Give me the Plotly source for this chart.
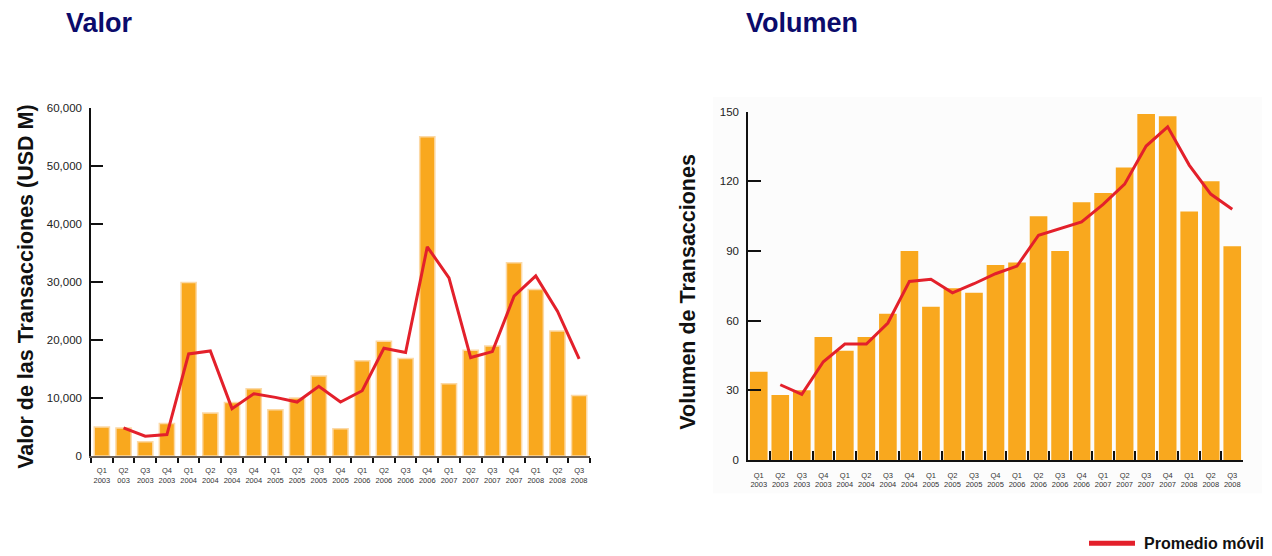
import plotly.graph_objects as go

W, H = 1272, 556

quarters = ["Q1<br>2003", "Q2<br>003", "Q3<br>2003", "Q4<br>2003",
            "Q1<br>2004", "Q2<br>2004", "Q3<br>2004", "Q4<br>2004",
            "Q1<br>2005", "Q2<br>2005", "Q3<br>2005", "Q4<br>2005",
            "Q1<br>2006", "Q2<br>2006", "Q3<br>2006", "Q4<br>2006",
            "Q1<br>2007", "Q2<br>2007", "Q3<br>2007", "Q4<br>2007",
            "Q1<br>2008", "Q2<br>2008", "Q3<br>2008"]
quarters_vol = ["Q1<br>2003", "Q2<br>2003", "Q3<br>2003", "Q4<br>2003",
                "Q1<br>2004", "Q2<br>2004", "Q3<br>2004", "Q4<br>2004",
                "Q1<br>2005", "Q2<br>2005", "Q3<br>2005", "Q4<br>2005",
                "Q1<br>2006", "Q2<br>2006", "Q3<br>2006", "Q4<br>2006",
                "Q1<br>2007", "Q2<br>2007", "Q3<br>2007", "Q4<br>2007",
                "Q1<br>2008", "Q2<br>2008", "Q3<br>2008"]

# Transaction value (USD M) per quarter and its moving average
valor = [5000, 4850, 2450, 5600, 29900, 7400, 9250, 11600, 8000, 10000,
         13800, 4700, 16400, 19800, 16800, 55000, 12450, 18250, 18950,
         33300, 28700, 21550, 10450]
valor_prom = [None, 4850, 3430, 3710, 17600, 18100, 8170, 10740, 10110,
              9310, 12000, 9310, 11260, 18570, 17830, 36050, 30690, 16970,
              18000, 27550, 31030, 24970, 16740]

# Number of transactions per quarter and its moving average
volumen = [38, 28, 30, 53, 47, 53, 63, 90, 66, 74, 72, 84, 85, 105, 90,
           111, 115, 126, 149, 148, 107, 120, 92]
volumen_prom = [None, 32.4, 28.3, 42.3, 49.9, 49.9, 59.0, 76.9, 77.8, 72.0,
                75.9, 80.2, 83.5, 96.8, 99.6, 102.5, 110.1, 118.8, 135.2,
                143.5, 127.0, 114.5, 108.0]

valor_ticks = [0, 10000, 20000, 30000, 40000, 50000, 60000]
volumen_ticks = [0, 30, 60, 90, 120, 150]

BAR = "#F9A81E"
RED = "#E3202B"
NAVY = "#0B0B6B"
FONT = "Liberation Sans, Arial, sans-serif"

def px_x(v):
    return v / W

def px_y(v):
    return 1 - v / H

fig = go.Figure()

fig.add_trace(go.Bar(x=quarters, y=valor, marker=dict(color=BAR, line=dict(color="#FCD9A6", width=1.5)),
                     xaxis="x", yaxis="y", showlegend=False))
fig.add_trace(go.Scatter(x=quarters, y=valor_prom, mode="lines", line=dict(color=RED, width=3),
                         xaxis="x", yaxis="y", showlegend=False))
fig.add_trace(go.Bar(x=quarters_vol, y=volumen, width=0.82, marker=dict(color=BAR, line=dict(width=0)),
                     xaxis="x2", yaxis="y2", showlegend=False))
fig.add_trace(go.Scatter(x=quarters_vol, y=volumen_prom, mode="lines", line=dict(color=RED, width=3),
                         xaxis="x2", yaxis="y2", showlegend=False))

tick_font = dict(family=FONT, size=7.5, color="#333333")
ylab_font = dict(family=FONT, size=11.5, color="#222222")

fig.update_layout(
    width=W, height=H,
    margin=dict(l=0, r=0, t=0, b=0),
    paper_bgcolor="white", plot_bgcolor="rgba(0,0,0,0)",
    font=dict(family=FONT),
    bargap=0.3,
    xaxis=dict(domain=[px_x(91), px_x(590)], anchor="y", type="category",
               showline=True, linecolor="#6b5f55", linewidth=1.5,
               ticks="outside", ticklen=5, tickcolor="#111111", tickwidth=1.5,
               tickson="boundaries", tickfont=tick_font, tickangle=0,
               ticklabelstandoff=6, showgrid=False, fixedrange=True),
    yaxis=dict(domain=[px_y(460), px_y(104)], anchor="x", range=[0, 60000],
               tickvals=valor_ticks, tickformat=",", showline=True,
               linecolor="#111111", linewidth=1.5, ticks="inside", ticklen=12,
               tickcolor="#111111", tickwidth=1.5, tickfont=ylab_font,
               ticklabelstandoff=5, showgrid=False, zeroline=False),
    xaxis2=dict(domain=[px_x(748), px_x(1243)], anchor="y2", type="category",
                showline=True, linecolor="#111111", linewidth=1.5,
                ticks="inside", ticklen=9, tickcolor="#111111", tickwidth=1.5,
                tickson="boundaries", tickfont=tick_font, tickangle=0,
                ticklabelstandoff=7, showgrid=False),
    yaxis2=dict(domain=[px_y(464), px_y(108)], anchor="x2", range=[0, 150],
                tickvals=volumen_ticks, showline=True, linecolor="#111111",
                linewidth=1.5, ticks="inside", ticklen=13, tickcolor="#111111",
                tickwidth=1.5, tickfont=ylab_font, ticklabelstandoff=5,
                showgrid=False, zeroline=False),
)

shapes = [
    # light panel behind the volume chart
    dict(type="rect", xref="paper", yref="paper", layer="below",
         x0=px_x(713), x1=px_x(1262), y0=px_y(498), y1=px_y(93),
         fillcolor="#FCFCFC", line=dict(width=0)),
    # legend swatch
    dict(type="line", xref="paper", yref="paper",
         x0=px_x(1089), x1=px_x(1135), y0=px_y(549), y1=px_y(549),
         line=dict(color=RED, width=5)),
]

annotations = [
    dict(text="<b>Valor</b>", xref="paper", yref="paper", x=px_x(64), y=px_y(17),
         xanchor="left", yanchor="middle", showarrow=False,
         font=dict(family=FONT, size=27, color=NAVY)),
    dict(text="<b>Volumen</b>", xref="paper", yref="paper", x=px_x(744), y=px_y(17),
         xanchor="left", yanchor="middle", showarrow=False,
         font=dict(family=FONT, size=27, color=NAVY)),
    dict(text="<b>Valor de las Transacciones (USD M)</b>", xref="paper", yref="paper",
         x=px_x(26), y=px_y(287), xanchor="center", yanchor="middle", textangle=-90,
         showarrow=False, font=dict(family=FONT, size=21.5, color="#111111")),
    dict(text="<b>Volumen de Transacciones</b>", xref="paper", yref="paper",
         x=px_x(688), y=px_y(292), xanchor="center", yanchor="middle", textangle=-90,
         showarrow=False, font=dict(family=FONT, size=21.5, color="#111111")),
    dict(text="<b>Promedio móvil</b>", xref="paper", yref="paper",
         x=px_x(1142), y=px_y(549), xanchor="left", yanchor="middle",
         showarrow=False, font=dict(family=FONT, size=16, color="#111111")),
]

fig.update_layout(shapes=shapes, annotations=annotations)

fig.write_html("out.html")
